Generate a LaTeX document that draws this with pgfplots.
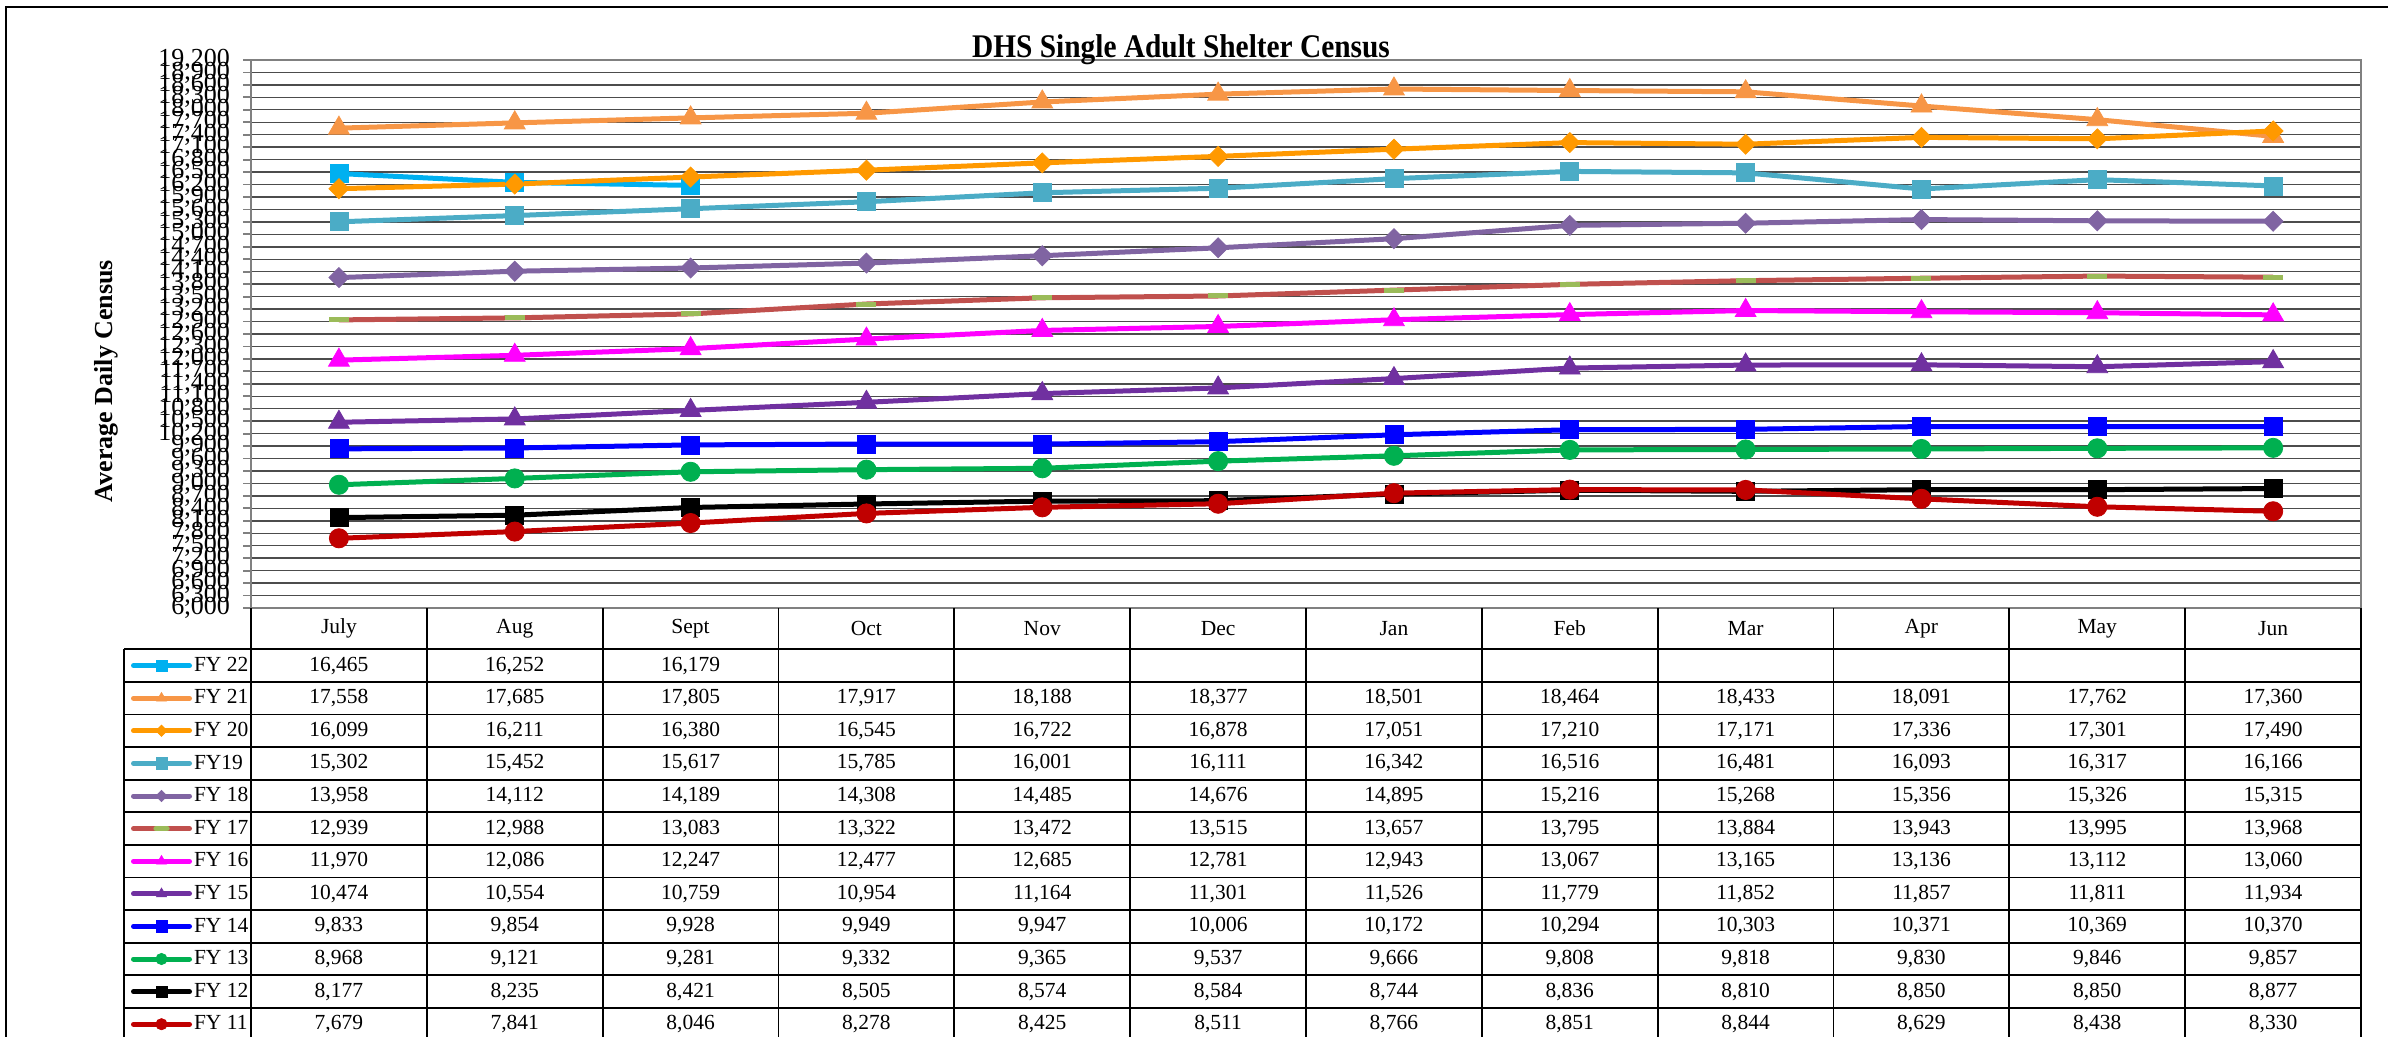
\documentclass[border=0pt]{standalone}
\usepackage{fontspec}
\setmainfont{Liberation Serif}
\usepackage{pgfplots}
\usepackage{pgfplotstable}
\pgfplotsset{compat=1.18}
\pgfkeys{/pgf/number format/assume math mode=true}

\definecolor{fy22}{HTML}{00B0F0}
\definecolor{fy21}{HTML}{F79646}
\definecolor{fy20}{HTML}{FF9900}
\definecolor{fy19}{HTML}{4BACC6}
\definecolor{fy18}{HTML}{8064A2}
\definecolor{fy17}{HTML}{C0504D}
\definecolor{fy17m}{HTML}{9BBB59}
\definecolor{fy16}{HTML}{FF00FF}
\definecolor{fy15}{HTML}{7030A0}
\definecolor{fy14}{HTML}{0000FF}
\definecolor{fy13}{HTML}{00B050}
\definecolor{fy12}{HTML}{000000}
\definecolor{fy11}{HTML}{C00000}

% month index (centre of each table column), one column per fiscal year
\pgfplotstableread{
x    fy22  fy21  fy20  fy19  fy18  fy17  fy16  fy15  fy14  fy13 fy12 fy11
0.5  16465 17558 16099 15302 13958 12939 11970 10474 9833  8968 8177 7679
1.5  16252 17685 16211 15452 14112 12988 12086 10554 9854  9121 8235 7841
2.5  16179 17805 16380 15617 14189 13083 12247 10759 9928  9281 8421 8046
3.5  nan   17917 16545 15785 14308 13322 12477 10954 9949  9332 8505 8278
4.5  nan   18188 16722 16001 14485 13472 12685 11164 9947  9365 8574 8425
5.5  nan   18377 16878 16111 14676 13515 12781 11301 10006 9537 8584 8511
6.5  nan   18501 17051 16342 14895 13657 12943 11526 10172 9666 8744 8766
7.5  nan   18464 17210 16516 15216 13795 13067 11779 10294 9808 8836 8851
8.5  nan   18433 17171 16481 15268 13884 13165 11852 10303 9818 8810 8844
9.5  nan   18091 17336 16093 15356 13943 13136 11857 10371 9830 8850 8629
10.5 nan   17762 17301 16317 15326 13995 13112 11811 10369 9846 8850 8438
11.5 nan   17360 17490 16166 15315 13968 13060 11934 10370 9857 8877 8330
}\censusdata

\newcommand\tabfont{\fontsize{10.75bp}{12bp}\selectfont}

\begin{document}
\begin{tikzpicture}[x=0.5bp,y=0.5bp]
% outer chart frame (cut at right and bottom)
\draw[line width=1.1bp] (6,-20) -- (6,1029) -- (2420,1029);

\begin{axis}[
    at={(125.5bp,214bp)}, anchor=south west,
    scale only axis, width=1055bp, height=274bp,
    xmin=0, xmax=12, ymin=6000, ymax=19200,
    xtick=\empty,
    ytick distance=300,
    ytick pos=left,
    ymajorgrids,
    major grid style={black!70, line width=0.7bp},
    axis line style={black!50, line width=1.2bp},
    tick align=outside, major tick length=4bp,
    tick style={black!50, line width=0.9bp},
    scaled y ticks=false,
    yticklabel style={font=\fontsize{13bp}{13bp}\selectfont, xshift=-3bp,
        /pgf/number format/.cd, fixed, 1000 sep={,}},
    every axis plot/.append style={line width=2.5bp},
    legend cell align=left,
    legend style={at={(-0.05687,-0.07536)}, anchor=north west,
        draw=none, fill=none, inner sep=0pt, outer sep=0pt,
        row sep=0pt, column sep=1bp, font=\tabfont,
        cells={anchor=west},
        nodes={minimum height=16.3bp, inner sep=0pt}},
    legend image code/.code={
        \draw[mark repeat=2, mark phase=2, line cap=round, #1, mark size=2.8bp]
            plot coordinates {(0bp,0bp) (14bp,0bp) (28bp,0bp)};},
]
\addplot[fy22, mark=square*, mark size=4.5bp, mark options={line width=0.4bp}]
    table[x=x, y=fy22] {\censusdata};
\addlegendentry{FY 22}
\addplot[fy21, mark=triangle*, mark size=6bp, mark options={line width=0.4bp}]
    table[x=x, y=fy21] {\censusdata};
\addlegendentry{FY 21}
\addplot[fy20, mark=diamond*, mark size=5bp, mark options={xscale=1.33, line width=0.4bp}]
    table[x=x, y=fy20] {\censusdata};
\addlegendentry{FY 20}
\addplot[fy19, mark=square*, mark size=4.5bp, mark options={line width=0.4bp}]
    table[x=x, y=fy19] {\censusdata};
\addlegendentry{FY19}
\addplot[fy18, mark=diamond*, mark size=5bp, mark options={xscale=1.33, line width=0.4bp}]
    table[x=x, y=fy18] {\censusdata};
\addlegendentry{FY 18}
\addplot[fy17, mark=-, mark size=5bp, mark options={draw=fy17m, line width=2.5bp}]
    table[x=x, y=fy17] {\censusdata};
\addlegendentry{FY 17}
\addplot[fy16, mark=triangle*, mark size=6bp, mark options={line width=0.4bp}]
    table[x=x, y=fy16] {\censusdata};
\addlegendentry{FY 16}
\addplot[fy15, mark=triangle*, mark size=6bp, mark options={line width=0.4bp}]
    table[x=x, y=fy15] {\censusdata};
\addlegendentry{FY 15}
\addplot[fy14, mark=square*, mark size=4.5bp, mark options={line width=0.4bp}]
    table[x=x, y=fy14] {\censusdata};
\addlegendentry{FY 14}
\addplot[fy13, mark=*, mark size=4.8bp, mark options={line width=0.4bp}]
    table[x=x, y=fy13] {\censusdata};
\addlegendentry{FY 13}
\addplot[fy12, mark=square*, mark size=4.5bp, mark options={line width=0.4bp}]
    table[x=x, y=fy12] {\censusdata};
\addlegendentry{FY 12}
\addplot[fy11, mark=*, mark size=4.8bp, mark options={line width=0.4bp}]
    table[x=x, y=fy11] {\censusdata};
\addlegendentry{FY 11}
\end{axis}

% data table grid
\foreach \k in {0,...,12}
    \draw[line width=0.9bp] ({251+\k*175.833},428) -- ({251+\k*175.833},-20);
\draw[line width=0.9bp] (124,386.7) -- (124,-20);
\foreach \i in {0,...,12}
    \draw[line width=0.9bp] (124,{386.7-\i*32.6}) -- (2361,{386.7-\i*32.6});

% month header row
\foreach \m [count=\k from 0] in {July,Aug,Sept,Oct,Nov,Dec,Jan,Feb,Mar,Apr,May,Jun}
    \node[font=\tabfont] at ({251+(\k+0.5)*175.833},407.5) {\m};

% values, read from the same table
\foreach \s [count=\ri from 0] in {fy22,fy21,fy20,fy19,fy18,fy17,fy16,fy15,fy14,fy13,fy12,fy11}{
    \foreach \mi in {0,...,11}{
        \pgfplotstablegetelem{\mi}{\s}\of\censusdata
        \ifnum\strcmp{\pgfplotsretval}{nan}=0 \else
            \node[font=\tabfont] at ({251+(\mi+0.5)*175.833},{386.7-(\ri+0.5)*32.6})
                {\pgfmathprintnumber[fixed,1000 sep={,}]{\pgfplotsretval}};
        \fi
    }
}

% axis title and chart title
\node[rotate=90, font=\fontsize{13bp}{13bp}\selectfont\bfseries] at (106,655) {Average Daily Census};
\node[anchor=base] at (1181,978)
    {\scalebox{0.89}[1]{\fontsize{16.5bp}{17bp}\selectfont\bfseries DHS Single Adult Shelter Census}};

\pgfresetboundingbox
\useasboundingbox (0,0) rectangle (2388,1036);
\end{tikzpicture}
\end{document}
